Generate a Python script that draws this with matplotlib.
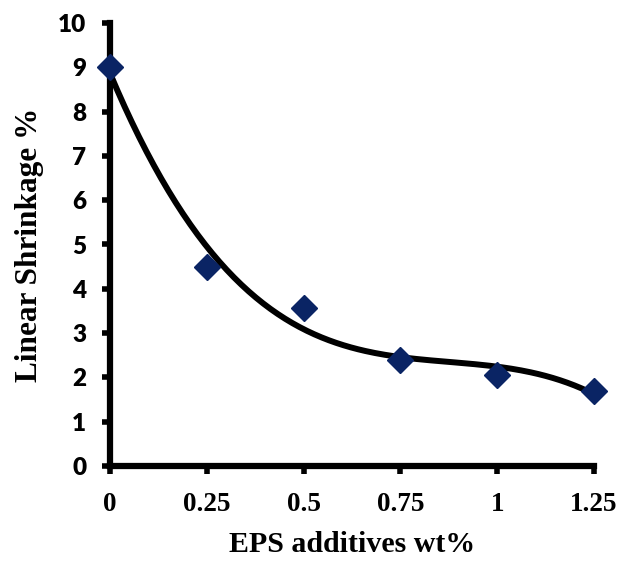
import numpy as np
import matplotlib
matplotlib.use('Agg')
import matplotlib.pyplot as plt

# EPS additive content vs linear shrinkage
eps_wt = [0, 0.25, 0.5, 0.75, 1.0, 1.25]
shrinkage = [9.0, 4.5, 3.57, 2.4, 2.06, 1.7]
x_ticks = [0, 0.25, 0.5, 0.75, 1, 1.25]
x_tick_labels = ['0', '0.25', '0.5', '0.75', '1', '1.25']
y_ticks = list(range(0, 11))

# cubic trendline (as Excel's polynomial fit)
coef = np.polyfit(eps_wt, shrinkage, 3)
xs = np.linspace(0, 1.25, 200)
ys = np.polyval(coef, xs)

fig = plt.figure(figsize=(6.19, 5.61), dpi=100)
ax = fig.add_axes([110/619, 1 - 466/561, 484/619, 443/561])

ax.plot(xs, ys, color='black', lw=4.3, zorder=2, clip_on=False)
ax.plot(eps_wt, shrinkage, linestyle='none', marker='D', ms=13.5,
        color='#0a2464', zorder=3, clip_on=False)

ax.set_xlim(0, 1.25)
ax.set_ylim(0, 10)
ax.set_xticks(x_ticks)
ax.set_xticklabels(x_tick_labels, fontfamily='Liberation Serif',
                   fontweight='bold', fontsize=19.5)
ax.set_yticks(y_ticks)
ax.set_yticklabels([str(v) for v in y_ticks], fontfamily='Lato',
                   fontweight='heavy', fontsize=17.5)

for s in ['top', 'right']:
    ax.spines[s].set_visible(False)
for s in ['left', 'bottom']:
    ax.spines[s].set_linewidth(4.5)
ax.tick_params(direction='out', length=6, width=4)
ax.tick_params(axis='x', pad=13)
ax.tick_params(axis='y', pad=11)

ax.set_xlabel('EPS additives wt%', fontfamily='Liberation Serif',
              fontweight='bold', fontsize=21.5, labelpad=10)
ax.set_ylabel('Linear Shrinkage %', fontfamily='Liberation Serif',
              fontweight='bold', fontsize=22.5, labelpad=10)

fig.savefig('out.png', dpi=100)
